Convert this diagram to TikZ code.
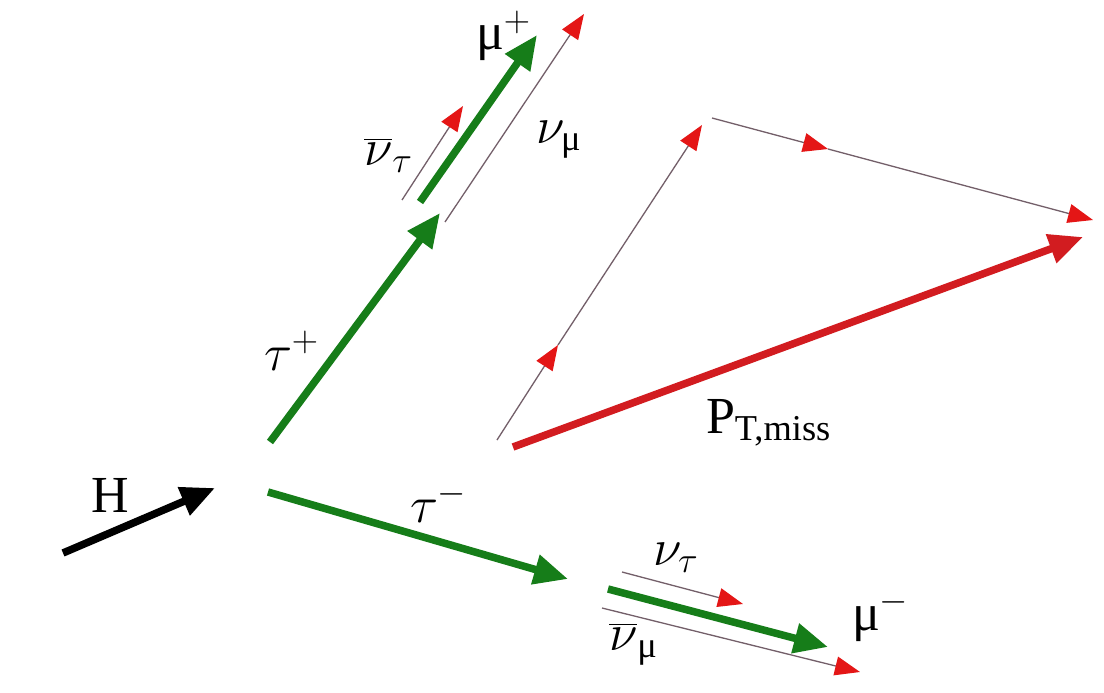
\RequirePackage{fix-cm}
\documentclass[tikz,border=0pt]{standalone}
\usepackage{amsmath}
\usepackage{fontspec}
\setmainfont{Liberation Serif}
\usetikzlibrary{arrows.meta}
\definecolor{lepgreen}{RGB}{22,125,25}
\definecolor{nured}{RGB}{228,22,22}
\definecolor{nuline}{RGB}{115,95,105}
\definecolor{missred}{RGB}{210,28,32}
\tikzset{
  heavy/.style={line width=7.5pt,-{Triangle[length=34pt,width=29pt]}},
  lepton/.style={heavy,draw=lepgreen,color=lepgreen},
  higgs/.style={heavy,draw=black},
  missing/.style={heavy,draw=missred,color=missred},
  nu/.style={draw=nuline,line width=1.3pt,-{Triangle[length=25pt,width=19pt,color=nured,fill=nured]}},
  lbl/.style={inner sep=0pt,outer sep=0pt,anchor=base west,font=\fontsize{52}{58}\selectfont}
}
\begin{document}
\begin{tikzpicture}[x=1pt,y=-1pt]
\path[use as bounding box,fill=white] (0,0) rectangle (1104,693);
% Higgs
\coordinate (hA) at (63,553);
\coordinate (hB) at (215,488);
\draw[higgs] (hA) -- (hB);
\node[lbl] (hLbl) at (91,512) {H};
% tau+ branch
\coordinate (tpA) at (270,442);
\coordinate (tpB) at (440,213);
\draw[lepton] (tpA) -- (tpB);
\node[lbl] (tpLbl) at (264,370) {$\tau^{+}$};
\coordinate (mpA) at (420,202);
\coordinate (mpB) at (537,35);
\draw[lepton] (mpA) -- (mpB);
\node[lbl] (mpLbl) at (476,50) {$\text{μ}^{+}$};
\coordinate (ntbA) at (402,200);
\coordinate (ntbB) at (463,106);
\draw[nu] (ntbA) -- (ntbB);
\node[lbl] (ntbLbl) at (364,165) {$\overline{\nu}_{\tau}$};
\coordinate (nmA) at (445,222);
\coordinate (nmB) at (584,14);
\draw[nu] (nmA) -- (nmB);
\node[lbl] (nmLbl) at (536,143) {$\nu_{\text{μ}}$};
% missing momentum sum
\coordinate (sA) at (497,440);
\coordinate (sM) at (558,345);
\coordinate (sB) at (702,125);
\draw[nu] (sA) -- (sM);
\draw[nu] (sM) -- (sB);
\coordinate (rA) at (712,118);
\coordinate (rM) at (828,149);
\coordinate (rB) at (1093,220);
\draw[nu] (rA) -- (rM);
\draw[nu] (rM) -- (rB);
\coordinate (ptA) at (513,447);
\coordinate (ptB) at (1083,237);
\draw[missing] (ptA) -- (ptB);
\node[lbl] (ptLbl) at (706,433) {P$_{\text{T,miss}}$};
% tau- branch
\coordinate (tmA) at (268,492);
\coordinate (tmB) at (568,579);
\draw[lepton] (tmA) -- (tmB);
\node[lbl] (tmLbl) at (410,522) {$\tau^{-}$};
\coordinate (mmA) at (608,589);
\coordinate (mmB) at (828,647);
\draw[lepton] (mmA) -- (mmB);
\node[lbl] (mmLbl) at (852,630) {$\text{μ}^{-}$};
\coordinate (ntA) at (622,572);
\coordinate (ntB) at (743,604);
\draw[nu] (ntA) -- (ntB);
\node[lbl] (ntLbl) at (653,565) {$\nu_{\tau}$};
\coordinate (nmbA) at (602,608);
\coordinate (nmbB) at (860,672);
\draw[nu] (nmbA) -- (nmbB);
\node[lbl] (nmbLbl) at (609,650) {$\overline{\nu}_{\text{μ}}$};
\end{tikzpicture}
\end{document}
